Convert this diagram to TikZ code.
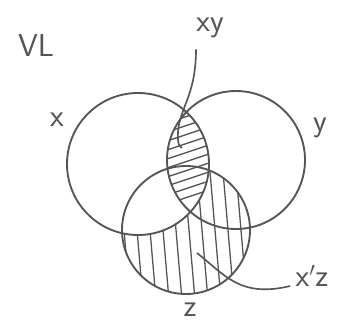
\documentclass[tikz,border=0pt]{standalone}
\usetikzlibrary{positioning}
\definecolor{pencil}{HTML}{555555}
\tikzset{
  every node/.style = {font=\sffamily, text=pencil},
  vlset/.style   = {draw=pencil, line width=1.6pt},
  vlhatch/.style = {draw=pencil, line width=1.1pt},
  vllead/.style  = {draw=pencil, line width=1.4pt},
  vllab/.style   = {font=\sffamily\fontsize{27}{30}\selectfont, inner sep=1pt},
}
\begin{document}
\begin{tikzpicture}[x=0.03cm, y=-0.03cm]
\useasboundingbox (0,0) rectangle (338,329);

% the three sets
\coordinate (cx) at (138,164);
\coordinate (cy) at (236,160);
\coordinate (cz) at (186,230);

% xy: diagonal hatching
\begin{scope}
  \clip (cx) circle (71);
  \clip (cy) circle (69);
  \foreach \i in {0,...,12}
    \draw[vlhatch] (140,{105+9*\i}) -- (230,{75+9*\i});
\end{scope}

% x'z: near vertical hatching
\begin{scope}[even odd rule]
  \clip (cz) circle (64);
  \clip (0,0) rectangle (338,329) (cx) circle (71);
  \foreach \i in {0,...,10}
    \draw[vlhatch] ({118+13*\i},160) -- ({130+13*\i},300);
\end{scope}

\draw[vlset] (cx) circle (71);
\draw[vlset] (cy) circle (69);
\draw[vlset] (cz) circle (64);

\node[vllab] (vl) at (36,46) {VL};
\node[vllab] (lx) at (57,120) {x};
\node[vllab] (ly) at (320,128) {y};
\node[vllab] (lz) at (190,310) {z};
\node[vllab] (lxy) at (210,28) {xy};
\node[vllab] (lxz) at (312,276) {x$'$z};

\coordinate (pxy) at (182,148);
\coordinate (pxz) at (197,253);
\draw[vllead] (lxy.south) ++(-14,10) .. controls (196,100) and (176,110) .. (178,140)
  .. controls (179,146) .. (pxy);
\draw[vllead] (lxz.west) ++(-4,10) .. controls (240,298) and (225,275) .. (pxz);
\end{tikzpicture}
\end{document}
